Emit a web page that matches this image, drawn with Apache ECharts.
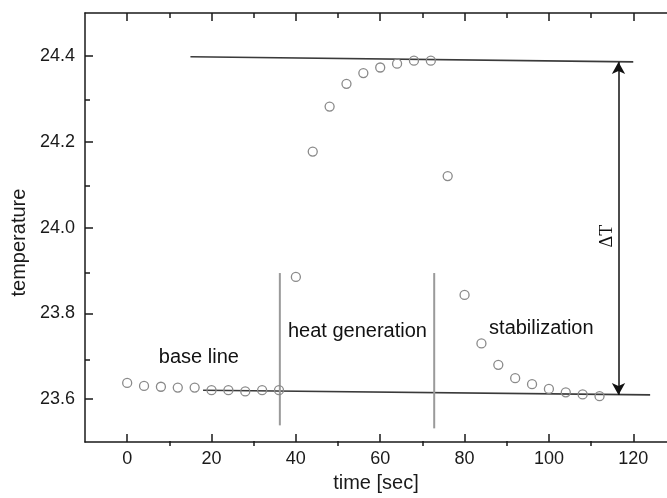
<!DOCTYPE html>
<html><head><meta charset="utf-8">
<script src="https://cdn.jsdelivr.net/npm/echarts@6/dist/echarts.min.js"></script>
<style>html,body{margin:0;padding:0;background:#fff}#c{width:667px;height:498px}</style>
</head><body><div id="c"></div>
<script>
// ---- data ----
const times = [0,4,8,12,16,20,24,28,32,36,40,44,48,52,56,60,64,68,72,76,80,84,88,92,96,100,104,108,112];
const temps = [23.638,23.631,23.629,23.627,23.627,23.621,23.621,23.618,23.621,23.621,
               23.885,24.177,24.282,24.335,24.360,24.373,24.382,24.389,24.389,
               24.12,23.843,23.73,23.68,23.649,23.635,23.624,23.616,23.611,23.607];
const topLine = [[15,24.398],[120,24.386]];
const baseLine = [[18,23.621],[124,23.610]];
const divider1 = [[36.2,23.894],[36.2,23.539]];
const divider2 = [[72.8,23.894],[72.8,23.532]];
const deltaArrow = [[116.5,24.386],[116.5,23.610]];
const xMajorTicks = [0,20,40,60,80,100,120];
const xMinorTicks = [10,30,50,70,90,110];
const yMajorTicks = [23.6,23.8,24.0,24.2,24.4];
const yMinorTicks = [23.7,23.9,24.1,24.3];
const annotationNames = ['base line','heat generation','stabilization'];
const annotationPos = [[17,23.697],[54.6,23.758],[98.2,23.765]];
const deltaLabel = 'ΔT';
const deltaLabelPos = [113.9,23.98];

const X_MIN = -10, X_MAX = 128, Y_MIN = 23.5, Y_MAX = 24.5;
const axisColor = '#1a1a1a';
const font = 'Liberation Sans, Arial, sans-serif';

const chart = echarts.init(document.getElementById('c'), null, {renderer:'canvas'});
const gridRect = {left:85, right:0, top:13, bottom:52};

function xAx(gridIndex, pos, ticks, len, labels, extra){
  return Object.assign({
    type:'value', gridIndex, position:pos, min:X_MIN, max:X_MAX,
    axisLine:{show:gridIndex===0, onZero:false, lineStyle:{color:axisColor,width:1.5}},
    axisTick:{show:true, inside:true, length:len, customValues:ticks, lineStyle:{color:axisColor,width:1.5}},
    axisLabel:{show:labels, customValues:ticks, fontSize:18, color:'#1a1a1a', fontFamily:font, margin:8},
    splitLine:{show:false}
  }, extra||{});
}
function yAx(gridIndex, ticks, len, labels, extra){
  return Object.assign({
    type:'value', gridIndex, position:'left', min:Y_MIN, max:Y_MAX,
    axisLine:{show:gridIndex===0, onZero:false, lineStyle:{color:axisColor,width:1.5}},
    axisTick:{show:true, inside:true, length:len, customValues:ticks, lineStyle:{color:axisColor,width:1.5}},
    axisLabel:{show:labels, customValues:ticks, fontSize:18, color:'#1a1a1a', fontFamily:font, margin:10,
               formatter:v=>Number(v).toFixed(1)},
    splitLine:{show:false}
  }, extra||{});
}

const lineSeries = (data, color, width) => ({
  type:'line', xAxisIndex:0, yAxisIndex:0, data, symbol:'none', silent:true,
  lineStyle:{color, width}, z:2, animation:false
});

chart.setOption({
  animation:false,
  backgroundColor:'#fff',
  grid:[Object.assign({}, gridRect), Object.assign({}, gridRect)],
  xAxis:[
    xAx(0,'bottom',xMajorTicks,8,true,{name:'time [sec]', nameLocation:'middle', nameGap:30,
      nameTextStyle:{fontSize:20, color:'#1a1a1a', fontFamily:font}}),
    xAx(0,'top',xMajorTicks,8,false),
    xAx(1,'bottom',xMinorTicks,5,false),
    xAx(1,'top',xMinorTicks,5,false)
  ],
  yAxis:[
    yAx(0,yMajorTicks,8,true,{name:'temperature', nameLocation:'middle', nameGap:56,
      nameTextStyle:{fontSize:20, color:'#1a1a1a', fontFamily:font, padding:[0,30,0,0]}}),
    yAx(1,yMinorTicks,5,false)
  ],
  series:[
    Object.assign(lineSeries(topLine,'#3a3a3a',1.6), {
      markLine:{silent:true, symbol:['arrow','arrow'], symbolSize:[10,12], label:{show:false},
        lineStyle:{color:'#111', width:1.5, type:'solid'},
        data:[[{coord:deltaArrow[0]},{coord:deltaArrow[1]}]]}
    }),
    lineSeries(baseLine,'#3a3a3a',1.6),
    lineSeries(divider1,'#9a9a9a',2),
    lineSeries(divider2,'#9a9a9a',2),
    {
      type:'scatter', xAxisIndex:0, yAxisIndex:0, z:3,
      data: times.map((t,i)=>[t,temps[i]]),
      symbol:'circle', symbolSize:9,
      itemStyle:{color:'rgba(0,0,0,0)', borderColor:'#8a8a8a', borderWidth:1.3, opacity:1},
      silent:true
    },
    {
      type:'scatter', xAxisIndex:0, yAxisIndex:0, z:4, symbolSize:0, silent:true,
      itemStyle:{opacity:1},
      data: annotationNames.map((n,i)=>({name:n, value:annotationPos[i]})),
      label:{show:true, position:'inside', formatter:'{b}', fontSize:20, color:'#111', fontFamily:font}
    },
    {
      type:'scatter', xAxisIndex:0, yAxisIndex:0, z:4, symbolSize:0, silent:true,
      itemStyle:{opacity:1},
      data:[{name:deltaLabel, value:deltaLabelPos}],
      label:{show:true, position:'inside', formatter:'{b}', rotate:90, fontSize:18, color:'#111',
             fontFamily:'Liberation Serif, Times New Roman, serif'}
    }
  ]
});
</script></body></html>
